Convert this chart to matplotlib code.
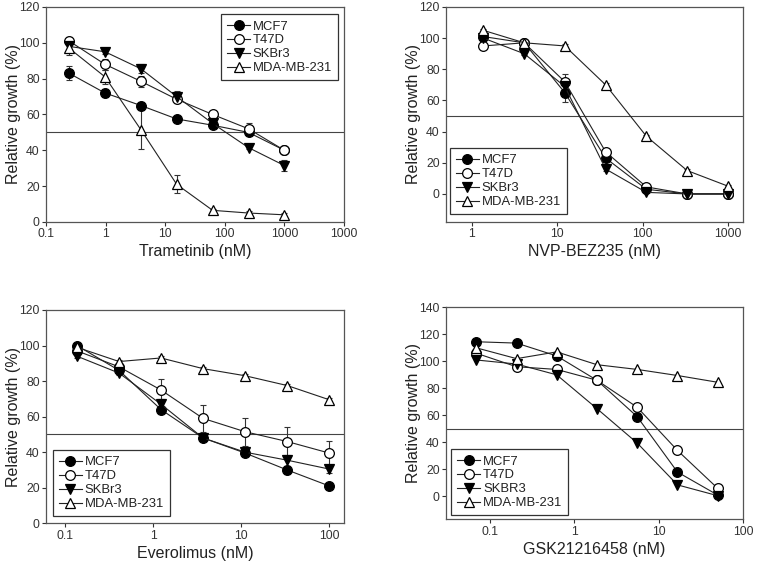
import numpy as np
import matplotlib
matplotlib.use('Agg')
import matplotlib.pyplot as plt

plt.rcParams['font.family'] = ['Liberation Sans', 'DejaVu Sans']

cell_lines = ['MCF7', 'T47D', 'SKBr3', 'MDA-MB-231']
cell_lines_gsk = ['MCF7', 'T47D', 'SKBR3', 'MDA-MB-231']

# Trametinib, 4-fold dilutions from 1000 nM
tram_dose = [0.244, 0.977, 3.91, 15.6, 62.5, 250, 1000]
tram_mcf7 = [83, 72, 65, 57.5, 54, 50, 40]
tram_t47d = [101, 88, 78.5, 68.5, 60, 52, 40]
tram_skbr3 = [98, 95, 85.5, 70, 55, 41.5, 31.5]
tram_mda = [97, 81, 51.5, 21, 6.5, 5, 4]
tram_err_mcf7 = [4, 2, 2, 1.5, 1.5, 1.5, 1]
tram_err_t47d = [2, 3, 3, 2, 1.5, 3, 2]
tram_err_skbr3 = [2, 1.5, 2.5, 3, 1.5, 1, 3]
tram_err_mda = [4, 4, 11, 5, 1, 1, 1]

# NVP-BEZ235, 3-fold dilutions from 1000 nM
bez_dose = [1.37, 4.12, 12.3, 37.0, 111, 333, 1000]
bez_mcf7 = [101, 97, 65, 23, 3, 0, 0]
bez_t47d = [95, 97, 72, 27, 4.5, 0, 0]
bez_skbr3 = [100, 90, 69, 16, 1, 0, 0]
bez_mda = [105, 97, 95, 70, 37, 15, 5]
bez_err_mcf7 = [1, 1, 6, 2, 1, 0.5, 0.5]
bez_err_t47d = [1, 1, 5, 2, 1, 0.5, 0.5]
bez_err_skbr3 = [1, 1, 3, 1, 0.5, 0.5, 0.5]
bez_err_mda = [1, 1, 1, 1, 1, 1, 1]

# Everolimus, 3-fold dilutions from 100 nM
evr_dose = [0.137, 0.412, 1.23, 3.70, 11.1, 33.3, 100]
evr_mcf7 = [100, 86, 64, 48, 39.5, 30, 21]
evr_t47d = [97, 88, 75, 59, 51.5, 46, 39.5]
evr_skbr3 = [94, 84.5, 67, 48, 40, 35.5, 30.5]
evr_mda = [99, 91, 93, 87, 83, 77.5, 69.5]
evr_err_mcf7 = [1, 1, 2, 1.5, 1.5, 2, 1]
evr_err_t47d = [1, 1, 6, 7.5, 8, 8, 7]
evr_err_skbr3 = [1, 1, 3, 1.5, 1.5, 3, 2]
evr_err_mda = [1, 1, 1, 1, 1, 1, 1]

# GSK21216458, 3-fold dilutions from 50 nM
gsk_dose = [0.0686, 0.206, 0.617, 1.85, 5.56, 16.7, 50]
gsk_mcf7 = [114.5, 113.5, 104, 86, 59, 18, 1]
gsk_t47d = [106, 96, 94, 86, 66, 34, 6]
gsk_skbr3 = [101, 98, 90, 65, 39.5, 8.5, 0.5]
gsk_mda = [110, 102, 107, 97.5, 94, 89.5, 84.5]

markers = [
    dict(marker='o', mfc='black', mec='black'),
    dict(marker='o', mfc='white', mec='black'),
    dict(marker='v', mfc='black', mec='black'),
    dict(marker='^', mfc='white', mec='black'),
]

fig = plt.figure(figsize=(7.59, 5.67), dpi=100)

# axes boxes in figure fractions (left, bottom, width, height)
boxes = [
    [0.0606, 0.6085, 0.3926, 0.3792],
    [0.5876, 0.6085, 0.3913, 0.3792],
    [0.0606, 0.0771, 0.3926, 0.3762],
    [0.5876, 0.0841, 0.3913, 0.3739],
]

panels = [
    dict(dose=tram_dose, ys=[tram_mcf7, tram_t47d, tram_skbr3, tram_mda],
         errs=[tram_err_mcf7, tram_err_t47d, tram_err_skbr3, tram_err_mda],
         names=cell_lines, xlabel='Trametinib (nM)', xlim=(0.1, 10000),
         xticks=[0.1, 1, 10, 100, 1000, 10000],
         xlabels=['0.1', '1', '10', '100', '1000', '1000'],
         ylim=(0, 120), yticks=[0, 20, 40, 60, 80, 100, 120],
         legend=dict(loc='upper right', bbox_to_anchor=(0.98, 0.965))),
    dict(dose=bez_dose, ys=[bez_mcf7, bez_t47d, bez_skbr3, bez_mda],
         errs=[bez_err_mcf7, bez_err_t47d, bez_err_skbr3, bez_err_mda],
         names=cell_lines, xlabel='NVP-BEZ235 (nM)', xlim=(0.5, 1500),
         xticks=[1, 10, 100, 1000], xlabels=['1', '10', '100', '1000'],
         ylim=(-18, 120), yticks=[0, 20, 40, 60, 80, 100, 120],
         legend=dict(loc='lower left', bbox_to_anchor=(0.013, 0.037))),
    dict(dose=evr_dose, ys=[evr_mcf7, evr_t47d, evr_skbr3, evr_mda],
         errs=[evr_err_mcf7, evr_err_t47d, evr_err_skbr3, evr_err_mda],
         names=cell_lines, xlabel='Everolimus (nM)', xlim=(0.061, 147),
         xticks=[0.1, 1, 10, 100], xlabels=['0.1', '1', '10', '100'],
         ylim=(0, 120), yticks=[0, 20, 40, 60, 80, 100, 120],
         legend=dict(loc='lower left', bbox_to_anchor=(0.023, 0.033))),
    dict(dose=gsk_dose, ys=[gsk_mcf7, gsk_t47d, gsk_skbr3, gsk_mda],
         errs=None,
         names=cell_lines_gsk, xlabel='GSK21216458 (nM)', xlim=(0.03, 100),
         xticks=[0.1, 1, 10, 100], xlabels=['0.1', '1', '10', '100'],
         ylim=(-17, 140), yticks=[0, 20, 40, 60, 80, 100, 120, 140],
         legend=dict(loc='lower left', bbox_to_anchor=(0.017, 0.019))),
]

grey = '#333333'

for box, p in zip(boxes, panels):
    ax = fig.add_axes(box)
    ax.set_xscale('log')
    ax.axhline(50, color='#444444', lw=0.8, zorder=1)
    for i, (name, y) in enumerate(zip(p['names'], p['ys'])):
        if p['errs'] is not None:
            ax.errorbar(p['dose'], y, yerr=p['errs'][i], fmt='none',
                        ecolor='#333333', elinewidth=0.8, capsize=2.5,
                        capthick=0.8, zorder=2)
        ax.plot(p['dose'], y, color='#222222', lw=0.8, ms=7, mew=0.9,
                label=name, zorder=3 + i * 0.1, **markers[i])
    ax.set_xlim(*p['xlim'])
    ax.set_ylim(*p['ylim'])
    ax.set_xticks(p['xticks'])
    ax.set_xticklabels(p['xlabels'])
    ax.xaxis.set_minor_locator(matplotlib.ticker.NullLocator())
    ax.set_yticks(p['yticks'])
    ax.tick_params(labelsize=8.8, colors=grey, length=3, width=0.8, pad=1.5)
    for s in ax.spines.values():
        s.set_color('#555555')
        s.set_linewidth(0.9)
    ax.set_xlabel(p['xlabel'], fontsize=11.5, color='#222222', labelpad=3)
    ax.set_ylabel('Relative growth (%)', fontsize=11.5, color='#222222')
    ax.yaxis.set_label_coords(-0.085, 0.5)
    leg = ax.legend(fontsize=9.4, handlelength=1.8, handletextpad=0.2,
                    borderpad=0.45, labelspacing=0.14, fancybox=False,
                    framealpha=1, edgecolor='#333333', borderaxespad=0,
                    **p['legend'])
    leg.get_frame().set_linewidth(0.9)
    for t in leg.get_texts():
        t.set_color('#222222')

fig.savefig('out.png', dpi=100)
